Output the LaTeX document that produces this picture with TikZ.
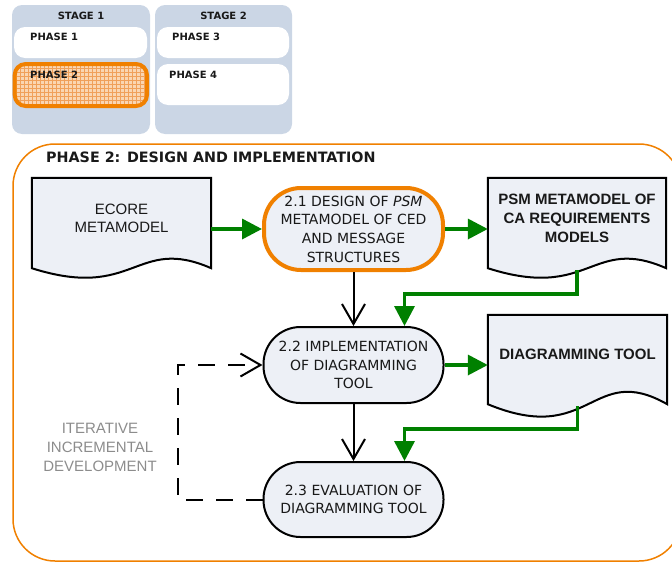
\documentclass[tikz,border=0pt]{standalone}
\usepackage{fontspec}
\setmainfont{DejaVu Sans}
\newfontfamily\arialf{Liberation Sans}
\usetikzlibrary{arrows.meta,calc,backgrounds}

\definecolor{panelblue}{RGB}{203,214,229}
\definecolor{boxfill}{RGB}{237,240,246}
\definecolor{ora}{RGB}{240,128,0}
\definecolor{gr}{RGB}{0,128,0}
\definecolor{peach}{RGB}{250,214,178}
\definecolor{gridor}{RGB}{240,160,90}
\definecolor{ink}{RGB}{25,25,25}
\definecolor{softgrey}{RGB}{140,140,140}

% document shape (flat top, wavy bottom) behind a named node
\newcommand\docoutline[2]{%
  \path[docline] (#1.north west) -- (#1.north east) -- ($(#1.south east)+(0,10)$)
    .. controls ($(#1.south)+(14,10-#2)$) and ($(#1.south)+(14,10+#2)$)
    .. ($(#1.south west)+(0,10)$) -- cycle;}

\begin{document}
\begin{tikzpicture}[x=1pt,y=-1pt,
  stagepanel/.style={fill=panelblue, draw=none, rounded corners=10pt, inner sep=0pt},
  stagelbl/.style={font=\bfseries\fontsize{10}{12}\selectfont, text=ink, inner sep=0pt},
  phasebox/.style={fill=white, draw=none, rounded corners=11pt, inner sep=0pt},
  phaselbl/.style={font=\bfseries\fontsize{10}{12}\selectfont, text=ink, inner sep=0pt, anchor=west},
  stepnode/.style={draw=black, line width=2pt, fill=boxfill, rounded corners=37pt, inner sep=0pt,
    align=center, text=ink, font=\fontsize{14}{18.7}\selectfont},
  docnode/.style={draw=none, inner sep=0pt, align=center, minimum width=179pt, minimum height=80pt, text=ink},
  docline/.style={draw=black, line width=2pt, fill=boxfill},
  garrow/.style={draw=gr, line width=3.5pt, -{Triangle[length=20pt,width=20pt]}},
  karrow/.style={draw=black, line width=2pt, -{Straight Barb[length=20pt,width=23pt]}},
]
\useasboundingbox (0,0) rectangle (672,562);

% outer frame of phase 2
\begin{scope}
  \clip (0,0) rectangle (672,562);
  \draw[ora, line width=1.5pt, rounded corners=42pt] (13,144) rectangle (681,561);
\end{scope}

% stage overview
\node[stagepanel, minimum width=138pt, minimum height=129pt] (st1) at (81,69.5) {};
\node[stagepanel, minimum width=137pt, minimum height=129pt] (st2) at (223.5,69.5) {};
\node[stagelbl] (st1t) at (81,15.5) {STAGE 1};
\node[stagelbl] (st2t) at (223.5,15.5) {STAGE 2};

\node[phasebox, minimum width=133pt, minimum height=31pt] (ph1) at (80.5,42.5) {};
\node[phaselbl] (ph1t) at (30,37) {PHASE 1};

\begin{scope}
  \clip[rounded corners=11pt] (14.7,64) rectangle (147,106);
  \fill[peach] (14,63) rectangle (148,107);
  \draw[gridor, line width=0.5pt, step=4pt] (14,63) grid (148,107);
\end{scope}
\node[draw=ora, line width=4pt, rounded corners=11pt, minimum width=132.3pt, minimum height=42pt, inner sep=0pt] (ph2) at (80.85,85) {};
\node[phaselbl] (ph2t) at (30,75) {PHASE 2};

\node[phasebox, minimum width=132pt, minimum height=31pt] (ph3) at (223,42.5) {};
\node[phaselbl] (ph3t) at (172,37) {PHASE 3};
\node[phasebox, minimum width=132pt, minimum height=41pt] (ph4) at (223,84.5) {};
\node[phaselbl] (ph4t) at (169,75) {PHASE 4};

% title
\node[font=\bfseries\fontsize{14.3}{17}\selectfont, anchor=west, inner sep=0pt, text=ink] (title) at (46,157)
  {PHASE 2: DESIGN AND IMPLEMENTATION};

% flow
\node[docnode, font=\arialf\fontsize{15}{18}\selectfont] (ecore) at (121.5,218) {ECORE\\METAMODEL};
\node[stepnode, draw=ora, line width=4pt, minimum width=179pt, minimum height=82pt] (d21) at (353.5,229)
  {2.1 DESIGN OF \textit{PSM}\\METAMODEL OF CED\\AND MESSAGE\\STRUCTURES};
\node[docnode, font=\arialf\bfseries\fontsize{15}{19}\selectfont, minimum width=178pt] (psm) at (577,218)
  {PSM METAMODEL OF\\CA REQUIREMENTS\\MODELS};
\node[stepnode, minimum width=180pt, minimum height=76pt] (impl) at (353.5,365)
  {2.2 IMPLEMENTATION\\OF DIAGRAMMING\\TOOL};
\node[docnode, font=\arialf\bfseries\fontsize{15}{19}\selectfont, minimum height=79pt] (dt) at (577.5,354.5)
  {DIAGRAMMING TOOL};
\node[stepnode, minimum width=180pt, minimum height=75pt] (eval) at (353.5,499.5)
  {2.3 EVALUATION OF\\DIAGRAMMING TOOL};
\node[font=\arialf\fontsize{15}{19}\selectfont, text=softgrey, align=center, inner sep=0pt] (iid) at (100,447)
  {ITERATIVE\\INCREMENTAL\\DEVELOPMENT};

\begin{pgfonlayer}{background}
  \docoutline{ecore}{33}
  \docoutline{psm}{33}
  \docoutline{dt}{43}
\end{pgfonlayer}

% connectors
\draw[garrow] (ecore.east |- d21.west) -- (d21.west);
\draw[garrow] (d21.east) -- (d21.east -| psm.west);
\draw[karrow] (d21.south) -- (impl.north);
\draw[garrow] ($(psm.south)+(0,12)$) |- ($(impl.north)+(51,-32)$) -- ($(impl.north)+(51,0)$);
\draw[garrow] (impl.east) -- (impl.east -| dt.west);
\draw[karrow] (impl.south) -- (eval.north);
\draw[garrow] ($(dt.south)+(0,12)$) |- ($(eval.north)+(51,-32)$) -- ($(eval.north)+(51,0)$);
\draw[karrow, dash pattern=on 17pt off 13pt] (eval.west) -- ++(-85,0) |- (impl.west);

\end{tikzpicture}
\end{document}
